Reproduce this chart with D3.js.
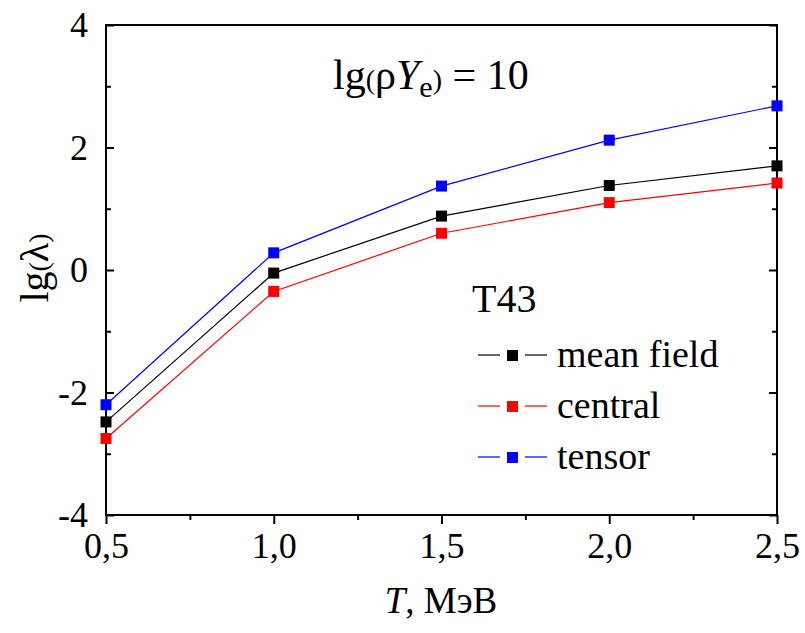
<!DOCTYPE html>
<html><head><meta charset="utf-8">
<script src="https://cdn.jsdelivr.net/npm/d3@7"></script>
<style>body{margin:0;background:#fff}svg{display:block}</style>
</head><body><svg id="c" width="805" height="633" font-family="Liberation Serif"></svg>
<script>
const temps = [0.5, 1.0, 1.5, 2.0, 2.5];
const meanField = [-2.48, -0.05, 0.88, 1.38, 1.70];
const central = [-2.75, -0.35, 0.60, 1.10, 1.42];
const tensor = [-2.20, 0.28, 1.37, 2.12, 2.68];
const seriesNames = ["mean field", "central", "tensor"];
const seriesColors = ["#000000", "#ff0000", "#0000ff"];
const xTicks = [0.5, 1.0, 1.5, 2.0, 2.5];
const xTickLabels = ["0,5", "1,0", "1,5", "2,0", "2,5"];
const yTicks = [-4, -2, 0, 2, 4];

const FONT = "Liberation Serif";
const series = [meanField, central, tensor];
const svg = d3.select("#c");
const L = 106, R = 777, T = 25, B = 515;
const x = d3.scaleLinear().domain([0.5, 2.5]).range([L, R]);
const y = d3.scaleLinear().domain([-4, 4]).range([B, T]);

// frame
svg.append("rect").attr("x", L).attr("y", T).attr("width", R - L).attr("height", B - T)
  .attr("fill", "none").attr("stroke", "#000").attr("stroke-width", 2);

// x axis ticks (outward)
const xMinor = [0.75, 1.25, 1.75, 2.25];
const gx = svg.append("g").attr("transform", `translate(0,${B})`)
  .call(d3.axisBottom(x).tickValues(xTicks).tickFormat((d, i) => xTickLabels[i]).tickSizeInner(9).tickSizeOuter(0).tickPadding(8));
gx.attr("font-family", FONT);
gx.select(".domain").remove();
gx.selectAll("line").attr("stroke-width", 2);
gx.selectAll("text").attr("font-size", 36).attr("font-family", FONT);
svg.append("g").attr("transform", `translate(0,${B})`)
  .call(d3.axisBottom(x).tickValues(xMinor).tickFormat("").tickSizeInner(5).tickSizeOuter(0))
  .call(g => g.select(".domain").remove()).selectAll("line").attr("stroke-width", 2);

// y axis ticks (inward)
const yMinor = [-3, -1, 1, 3];
const gy = svg.append("g").attr("transform", `translate(${L},0)`)
  .call(d3.axisLeft(y).tickValues(yTicks).tickFormat(d => d).tickSizeInner(-8).tickSizeOuter(0).tickPadding(18));
gy.attr("font-family", FONT);
gy.select(".domain").remove();
gy.selectAll("line").attr("stroke-width", 2);
gy.selectAll("text").attr("font-size", 36).attr("font-family", FONT);
svg.append("g").attr("transform", `translate(${L},0)`)
  .call(d3.axisLeft(y).tickValues(yMinor).tickFormat("").tickSizeInner(-5).tickSizeOuter(0))
  .call(g => g.select(".domain").remove()).selectAll("line").attr("stroke-width", 2);
// right mirror ticks
svg.append("g").attr("transform", `translate(${R},0)`)
  .call(d3.axisRight(y).tickValues(yTicks).tickFormat("").tickSizeInner(-8).tickSizeOuter(0))
  .call(g => g.select(".domain").remove()).selectAll("line").attr("stroke-width", 2);
svg.append("g").attr("transform", `translate(${R},0)`)
  .call(d3.axisRight(y).tickValues(yMinor).tickFormat("").tickSizeInner(-5).tickSizeOuter(0))
  .call(g => g.select(".domain").remove()).selectAll("line").attr("stroke-width", 2);

// lines & markers
const line = d3.line().x((d, i) => x(temps[i])).y(d => y(d));
series.forEach((s, k) => {
  svg.append("path").datum(s).attr("d", line).attr("fill", "none")
    .attr("stroke", seriesColors[k]).attr("stroke-width", 1.2);
  svg.append("g").selectAll("rect").data(s).join("rect")
    .attr("x", (d, i) => x(temps[i]) - 5.5).attr("y", d => y(d) - 5.5)
    .attr("width", 11).attr("height", 11).attr("fill", seriesColors[k]);
});

// axis titles
const xt = svg.append("text").attr("x", 441).attr("y", 613).attr("text-anchor", "middle").attr("font-size", 37).attr("font-family", FONT);
xt.append("tspan").attr("font-style", "italic").text("T");
xt.append("tspan").text(", МэВ");

const yt = svg.append("text").attr("transform", "translate(48,268) rotate(-90)").attr("text-anchor", "middle").attr("font-size", 40).attr("font-family", FONT);
yt.append("tspan").text("lg");
yt.append("tspan").attr("font-size", 28).text("(");
yt.append("tspan").text("λ");
yt.append("tspan").attr("font-size", 28).text(")");

// annotation
const ann = svg.append("text").attr("x", 333).attr("y", 89).attr("font-size", 42).attr("font-family", FONT);
ann.append("tspan").text("lg");
ann.append("tspan").attr("font-size", 28).text("(");
ann.append("tspan").text("ρ");
ann.append("tspan").attr("font-style", "italic").text("Y");
ann.append("tspan").attr("font-size", 30).attr("dy", 8).text("e");
ann.append("tspan").attr("font-size", 28).attr("dy", -8).text(")");
ann.append("tspan").text(" = 10");

// legend
svg.append("text").attr("x", 472).attr("y", 312).attr("font-size", 40).attr("font-family", FONT).text("T43");
const legY = [355, 406, 457];
seriesNames.forEach((n, k) => {
  const g = svg.append("g");
  g.append("line").attr("x1", 478).attr("x2", 500).attr("y1", legY[k]).attr("y2", legY[k]).attr("stroke", seriesColors[k]).attr("stroke-width", 1.2);
  g.append("line").attr("x1", 525).attr("x2", 547).attr("y1", legY[k]).attr("y2", legY[k]).attr("stroke", seriesColors[k]).attr("stroke-width", 1.2);
  g.append("rect").attr("x", 507).attr("y", legY[k] - 5).attr("width", 11).attr("height", 11).attr("fill", seriesColors[k]);
  g.append("text").attr("x", 557).attr("y", legY[k] + 12).attr("font-size", 38).attr("font-family", FONT).text(n);
});
</script></body></html>
